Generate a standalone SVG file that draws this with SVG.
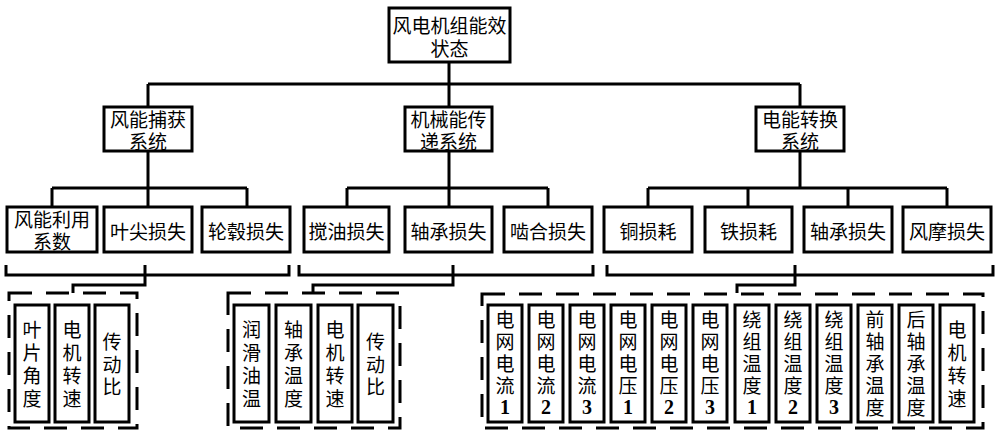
<svg xmlns="http://www.w3.org/2000/svg" width="1000" height="434" viewBox="0 0 1000 434">
<style>
.box{fill:#fff;stroke:#000;stroke-width:3}
.dash{fill:none;stroke:#000;stroke-width:3;stroke-dasharray:23 14}
.ln{fill:none;stroke:#000;stroke-width:3}
text{font-family:"Noto Sans CJK SC","Noto Sans CJK TC",sans-serif;font-size:19px;text-anchor:middle;dominant-baseline:central;fill:#000}
.num{font-family:"Liberation Serif",serif;font-weight:bold;font-size:20px}
</style>
<rect width="1000" height="434" fill="#fff"/>
<g id="connectors">
<path class="ln" d="M449 63V84M148 84H800M148 84V107M449 84V107M800 84V107"/>
<path class="ln" d="M148 151V207M52 188H247M52 188V207M247 188V207"/>
<path class="ln" d="M449 151V207M347 188H548M347 188V207M548 188V207"/>
<path class="ln" d="M800 151V188M648 188H947M648 188V207M748 188V207M848 188V207M947 188V207"/>
<path class="ln" d="M6 265V275H289V265M145 265V285H73V293"/>
<path class="ln" d="M299 265V275H593V265M453 265V285H313V293"/>
<path class="ln" d="M607 265V275H993V265M795 265V285H737V293"/>
</g>
<g id="root"><rect class="box" x="389" y="8" width="121" height="54"/><text><tspan x="449.5" y="24">风电机组能效</tspan><tspan x="449.5" y="47">状态</tspan></text></g>
<g id="n-wind"><rect class="box" x="104" y="107" width="88" height="44"/><text><tspan x="148" y="118">风能捕获</tspan><tspan x="148" y="140">系统</tspan></text></g>
<g id="n-mech"><rect class="box" x="405" y="107" width="87" height="44"/><text><tspan x="448.5" y="118">机械能传</tspan><tspan x="448.5" y="140">递系统</tspan></text></g>
<g id="n-elec"><rect class="box" x="756" y="107" width="88" height="44"/><text><tspan x="800" y="118">电能转换</tspan><tspan x="800" y="140">系统</tspan></text></g>
<g id="l-cp"><rect class="box" x="7" y="207" width="90" height="45"/><text><tspan x="52" y="218">风能利用</tspan><tspan x="52" y="240">系数</tspan></text></g>
<g id="l-tip"><rect class="box" x="104" y="207" width="88" height="45"/><text x="148" y="230">叶尖损失</text></g>
<g id="l-hub"><rect class="box" x="202" y="207" width="88" height="45"/><text x="246" y="230">轮毂损失</text></g>
<g id="l-churn"><rect class="box" x="304" y="207" width="85" height="45"/><text x="346.5" y="230">搅油损失</text></g>
<g id="l-bear1"><rect class="box" x="405" y="207" width="87" height="45"/><text x="448.5" y="230">轴承损失</text></g>
<g id="l-mesh"><rect class="box" x="504" y="207" width="88" height="45"/><text x="548" y="230">啮合损失</text></g>
<g id="l-cu"><rect class="box" x="604" y="207" width="88" height="45"/><text x="648" y="230">铜损耗</text></g>
<g id="l-fe"><rect class="box" x="705" y="207" width="87" height="45"/><text x="748.5" y="230">铁损耗</text></g>
<g id="l-bear2"><rect class="box" x="804" y="207" width="88" height="45"/><text x="848" y="230">轴承损失</text></g>
<g id="l-wind"><rect class="box" x="903" y="207" width="88" height="45"/><text x="947" y="230">风摩损失</text></g>
<g id="grp1">
<rect class="dash" x="9" y="293" width="128" height="135"/>
<g id="g1a"><rect class="box" x="15" y="305" width="34" height="117"/><text><tspan x="32" y="328">叶</tspan><tspan x="32" y="351">片</tspan><tspan x="32" y="374">角</tspan><tspan x="32" y="397">度</tspan></text></g>
<g id="g1b"><rect class="box" x="55" y="305" width="34" height="117"/><text><tspan x="72" y="328">电</tspan><tspan x="72" y="351">机</tspan><tspan x="72" y="374">转</tspan><tspan x="72" y="397">速</tspan></text></g>
<g id="g1c"><rect class="box" x="95" y="305" width="34" height="117"/><text><tspan x="112" y="340">传</tspan><tspan x="112" y="362.5">动</tspan><tspan x="112" y="385">比</tspan></text></g>
</g>
<g id="grp2">
<rect class="dash" x="228" y="293" width="172" height="135"/>
<g id="g2a"><rect class="box" x="234" y="305" width="35" height="117"/><text><tspan x="251.5" y="328">润</tspan><tspan x="251.5" y="351">滑</tspan><tspan x="251.5" y="374">油</tspan><tspan x="251.5" y="397">温</tspan></text></g>
<g id="g2b"><rect class="box" x="276" y="305" width="35" height="117"/><text><tspan x="293.5" y="328">轴</tspan><tspan x="293.5" y="351">承</tspan><tspan x="293.5" y="374">温</tspan><tspan x="293.5" y="397">度</tspan></text></g>
<g id="g2c"><rect class="box" x="318" y="305" width="34" height="117"/><text><tspan x="335" y="328">电</tspan><tspan x="335" y="351">机</tspan><tspan x="335" y="374">转</tspan><tspan x="335" y="397">速</tspan></text></g>
<g id="g2d"><rect class="box" x="358" y="305" width="35" height="117"/><text><tspan x="375.5" y="340">传</tspan><tspan x="375.5" y="362.5">动</tspan><tspan x="375.5" y="385">比</tspan></text></g>
</g>
<g id="grp3">
<rect class="dash" x="482" y="294" width="501" height="134"/>
<g id="g3a"><rect class="box" x="488" y="305" width="34" height="117"/><text><tspan x="505" y="318">电</tspan><tspan x="505" y="340">网</tspan><tspan x="505" y="362">电</tspan><tspan x="505" y="384">流</tspan><tspan class="num" x="505" y="407">1</tspan></text></g>
<g id="g3b"><rect class="box" x="529" y="305" width="34" height="117"/><text><tspan x="546" y="318">电</tspan><tspan x="546" y="340">网</tspan><tspan x="546" y="362">电</tspan><tspan x="546" y="384">流</tspan><tspan class="num" x="546" y="407">2</tspan></text></g>
<g id="g3c"><rect class="box" x="570" y="305" width="34" height="117"/><text><tspan x="587" y="318">电</tspan><tspan x="587" y="340">网</tspan><tspan x="587" y="362">电</tspan><tspan x="587" y="384">流</tspan><tspan class="num" x="587" y="407">3</tspan></text></g>
<g id="g3d"><rect class="box" x="611" y="305" width="34" height="117"/><text><tspan x="628" y="318">电</tspan><tspan x="628" y="340">网</tspan><tspan x="628" y="362">电</tspan><tspan x="628" y="384">压</tspan><tspan class="num" x="628" y="407">1</tspan></text></g>
<g id="g3e"><rect class="box" x="652" y="305" width="34" height="117"/><text><tspan x="669" y="318">电</tspan><tspan x="669" y="340">网</tspan><tspan x="669" y="362">电</tspan><tspan x="669" y="384">压</tspan><tspan class="num" x="669" y="407">2</tspan></text></g>
<g id="g3f"><rect class="box" x="693" y="305" width="34" height="117"/><text><tspan x="710" y="318">电</tspan><tspan x="710" y="340">网</tspan><tspan x="710" y="362">电</tspan><tspan x="710" y="384">压</tspan><tspan class="num" x="710" y="407">3</tspan></text></g>
<g id="g3g"><rect class="box" x="735" y="305" width="34" height="117"/><text><tspan x="752" y="318">绕</tspan><tspan x="752" y="340">组</tspan><tspan x="752" y="362">温</tspan><tspan x="752" y="384">度</tspan><tspan class="num" x="752" y="407">1</tspan></text></g>
<g id="g3h"><rect class="box" x="776" y="305" width="34" height="117"/><text><tspan x="793" y="318">绕</tspan><tspan x="793" y="340">组</tspan><tspan x="793" y="362">温</tspan><tspan x="793" y="384">度</tspan><tspan class="num" x="793" y="407">2</tspan></text></g>
<g id="g3i"><rect class="box" x="817" y="305" width="34" height="117"/><text><tspan x="834" y="318">绕</tspan><tspan x="834" y="340">组</tspan><tspan x="834" y="362">温</tspan><tspan x="834" y="384">度</tspan><tspan class="num" x="834" y="407">3</tspan></text></g>
<g id="g3j"><rect class="box" x="858" y="305" width="34" height="117"/><text><tspan x="875" y="318">前</tspan><tspan x="875" y="340">轴</tspan><tspan x="875" y="362">承</tspan><tspan x="875" y="384">温</tspan><tspan x="875" y="406">度</tspan></text></g>
<g id="g3k"><rect class="box" x="899" y="305" width="34" height="117"/><text><tspan x="916" y="318">后</tspan><tspan x="916" y="340">轴</tspan><tspan x="916" y="362">承</tspan><tspan x="916" y="384">温</tspan><tspan x="916" y="406">度</tspan></text></g>
<g id="g3l"><rect class="box" x="940" y="305" width="34" height="117"/><text><tspan x="957" y="328">电</tspan><tspan x="957" y="351">机</tspan><tspan x="957" y="374">转</tspan><tspan x="957" y="397">速</tspan></text></g>
</g>
</svg>
